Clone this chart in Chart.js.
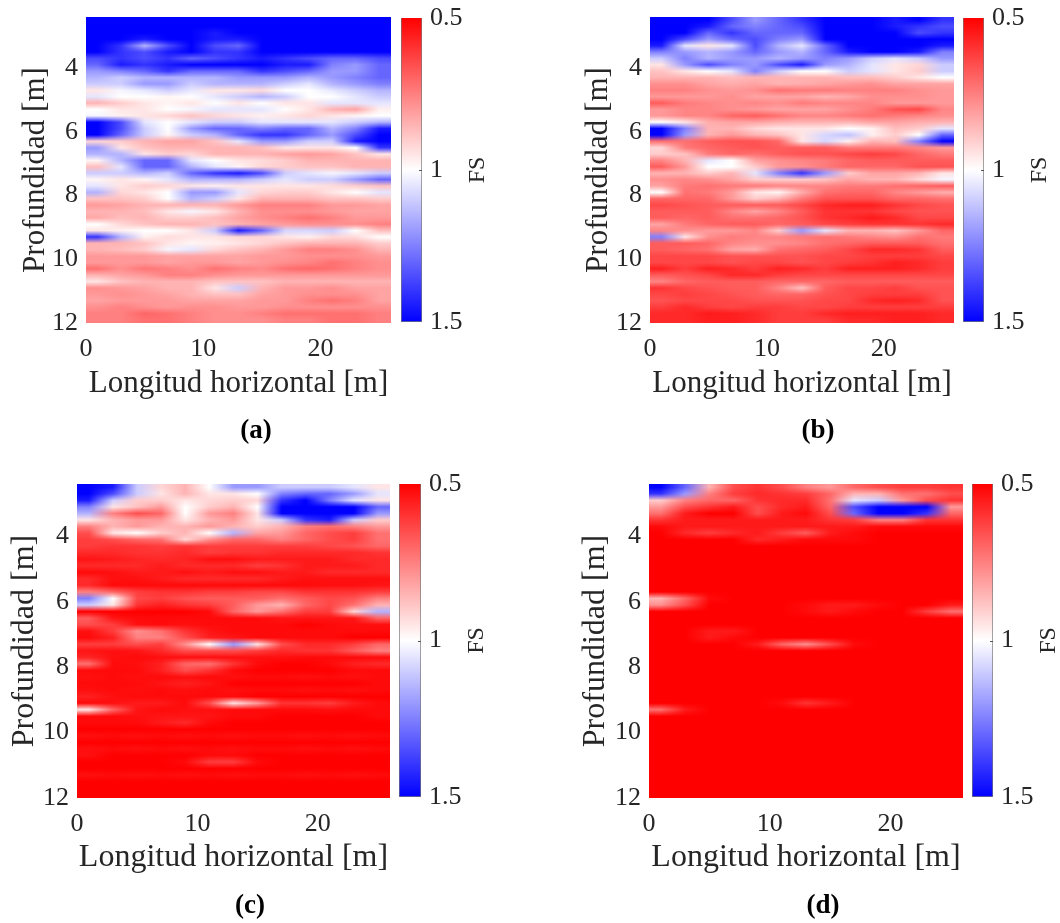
<!DOCTYPE html>
<html><head><meta charset="utf-8">
<style>html,body{margin:0;background:#fff;width:1060px;height:923px;overflow:hidden}canvas{position:absolute;display:block}</style>
<script src="https://cdn.jsdelivr.net/npm/chart.js@4"></script></head><body>
<script>
const xCells=[1,3,5,7,9,11,13,15,17,19,21,23,25];
const depthStart=2.4, depthStep=.2;
const xTicks=[0,10,20], yTicks=[4,6,8,10,12], fsTicks=[.5,1,1.5];
const xLabel='Longitud horizontal [m]', yLabel='Profundidad [m]', fsLabel='FS';
const captions=['(a)','(b)','(c)','(d)'];
const R=[.5,.5,.5,.5,.5,.5,.5,.5,.5,.5,.5,.5,.5];
const S=[.53,.52,.53,.52,.53,.52,.53,.52,.52,.53,.52,.53,.52];
const fsA=[
[1.5,1.5,1.5,1.5,1.5,1.5,1.5,1.5,1.5,1.5,1.5,1.5,1.5],
[1.5,1.5,1.5,1.5,1.5,1.5,1.5,1.5,1.5,1.5,1.5,1.5,1.5],
[1.5,1.5,1.5,1.5,1.5,1.45,1.5,1.5,1.5,1.5,1.5,1.5,1.5],
[1.5,1.5,1.45,1.5,1.5,1.45,1.45,1.5,1.5,1.5,1.5,1.5,1.5],
[1.5,1.4,1.15,1.35,1.5,1.35,1.3,1.5,1.5,1.5,1.5,1.5,1.5],
[1.5,1.4,1.35,1.45,1.5,1.4,1.4,1.5,1.5,1.5,1.5,1.5,1.5],
[1.35,1.4,1.35,1.4,1.3,1.35,1.4,1.45,1.4,1.35,1.3,1.3,1.35],
[1.3,1.45,1.4,1.45,1.5,1.5,1.5,1.5,1.45,1.45,1.25,1.2,1.3],
[1.2,1.25,1.3,1.4,1.3,1.3,1.3,1.4,1.35,1.3,1.2,1.2,1.3],
[1.15,1.1,1.15,1.15,1.15,1.15,1.2,1.2,1.2,1.15,1.2,1.25,1.3],
[1.1,1.1,1.2,1.2,1.1,1.15,1.15,1.15,1.1,1.05,1.15,1.2,1.25],
[.95,1.02,1.05,1.1,1.05,.95,.95,.93,1,1,1.05,1.1,1.15],
[1.05,1,1,.98,1,1.05,1.1,1.15,1.1,1,1,1.05,1.1],
[.85,.9,.95,.98,.95,1,.95,1,.95,.95,1.05,1.05,1.05],
[1,.95,.95,1,1.02,1.05,1.05,1.05,1,.95,.85,.82,.97],
[1.02,.97,.95,.92,.88,.92,.95,.97,.95,.92,.95,.98,1],
[1.5,1.35,1.05,1,1.05,1.1,1.1,1.05,1.05,1.05,1.05,1.1,1.15],
[1.5,1.35,1.1,1,1.2,1.3,1.3,1.25,1.3,1.3,1.15,1.25,1.45],
[1.5,1.3,1.1,.98,1.1,1.15,1.3,1.4,1.4,1.3,1.2,1.35,1.5],
[.92,.9,.85,.82,.82,.88,1.05,1.2,1.2,1.1,1.1,1.45,1.5],
[1.2,.95,.88,.85,.85,.85,.85,.87,.95,.95,.95,1,1.4],
[1.15,1.15,.95,.9,.92,.85,.85,.85,.82,.8,.82,.88,.95],
[.98,1.15,1.3,1.3,1.05,1,.95,.93,.9,.85,.85,.85,.85],
[.87,1.05,1.3,1.3,1.15,1.05,.98,.92,.9,.88,.88,.85,.85],
[1.1,1.1,1.15,1.1,1.3,1.4,1.45,1.35,1.1,1.05,1.02,1.05,1.1],
[.98,.95,.98,1.05,1.15,1.15,1.15,1.1,1.05,1.1,1.1,1.2,1.3],
[1.05,.95,.9,.92,.95,.97,.95,.95,.95,.95,.93,.9,.88],
[1.15,.92,.95,1,1.2,1.2,1.05,.92,.9,.9,.95,1,1.05],
[.88,.88,.9,1,1.15,1.1,.95,.85,.85,.85,.88,.88,.9],
[.8,.82,.85,.85,.85,.85,.8,.75,.75,.75,.8,.8,.82],
[.85,.85,.87,.95,1.02,.95,.85,.78,.78,.78,.8,.82,.82],
[.83,.87,.85,.9,.9,.87,.82,.78,.75,.72,.75,.8,.8],
[1,.92,.88,.85,.85,.88,.85,.82,.8,.78,.78,.78,.75],
[.95,.97,1,1,.95,1.1,1.45,1.3,1.08,1.08,1.1,1,.87],
[1.4,1.15,.97,.93,.95,.95,.92,.92,.95,.97,.92,.93,1],
[.85,.85,.88,.95,.98,.97,.95,.92,.88,.85,.85,.85,.9],
[.85,.87,.9,1.02,1.05,.92,.88,.85,.8,.75,.75,.78,.85],
[.8,.8,.8,.82,.82,.82,.82,.8,.8,.78,.78,.78,.8],
[.8,.8,.8,.82,.8,.8,.82,.8,.78,.76,.72,.75,.78],
[.72,.78,.73,.75,.78,.72,.75,.77,.72,.7,.72,.75,.78],
[.85,.82,.8,.75,.75,.78,.8,.8,.8,.8,.8,.8,.8],
[.95,.88,.85,.85,.85,.88,.88,.88,.85,.85,.85,.85,.85],
[.78,.8,.82,.85,.85,.95,1.1,.85,.8,.8,.78,.82,.82],
[.8,.78,.8,.82,.85,.88,.88,.82,.8,.78,.78,.78,.82],
[.82,.8,.8,.8,.82,.82,.82,.8,.8,.75,.72,.75,.82],
[.78,.75,.78,.8,.78,.78,.8,.8,.78,.78,.78,.78,.78],
[.75,.75,.7,.72,.75,.78,.78,.75,.72,.72,.72,.72,.75],
[.75,.75,.72,.72,.75,.78,.78,.78,.75,.75,.72,.72,.75]];
const fsB=[
[1.5,1.5,1.5,1.35,1.2,1.3,1.4,1.5,1.5,1.5,1.45,1.5,1.4],
[1.5,1.5,1.45,1.3,1.25,1.3,1.35,1.5,1.5,1.5,1.45,1.4,1.35],
[1.5,1.5,1.3,1.4,1.3,1.3,1.3,1.5,1.5,1.5,1.5,1.35,1.4],
[1.5,1.35,1.2,1.3,1.35,1.25,1.2,1.5,1.5,1.5,1.5,1.5,1.5],
[1.45,1.05,.95,1.05,1.35,1.15,1.05,1.3,1.5,1.5,1.5,1.5,1.45],
[1.25,1.2,1.15,1.2,1.3,1.2,1.15,1.3,1.45,1.5,1.5,1.45,1.25],
[1.1,1.25,1.15,1.2,1.2,1.15,1.2,1.25,1.2,1.1,1.05,1.1,1.2],
[.95,1.2,1.35,1.25,1.2,1.35,1.45,1.2,1.15,1.05,.95,.92,1.1],
[.88,.95,1,1.05,1.25,1.1,1,1,1.1,1.05,.95,.9,1.1],
[.85,.85,.85,.87,.85,.85,.85,.85,.87,.87,.9,.95,1],
[.78,.78,.82,.84,.82,.85,.84,.82,.8,.78,.82,.82,.82],
[.75,.75,.78,.8,.78,.72,.74,.74,.75,.75,.75,.78,.8],
[.8,.8,.8,.78,.82,.82,.82,.85,.83,.78,.78,.78,.8],
[.68,.74,.76,.78,.76,.78,.74,.76,.76,.76,.8,.8,.8],
[.8,.76,.76,.78,.8,.82,.82,.82,.78,.74,.66,.64,.76],
[.8,.76,.76,.7,.68,.72,.76,.76,.74,.72,.74,.76,.78],
[1,.95,.84,.82,.82,.84,.85,.85,.85,.82,.82,.84,.85],
[1.5,1.25,.85,.85,.92,.95,.95,.95,1,.97,.87,.9,1.05],
[1.5,1.2,.85,.8,.85,.88,.95,1.08,1.12,.97,.9,1,1.3],
[.72,.72,.68,.66,.66,.7,.95,1.08,.97,.85,.87,1.25,1.5],
[.92,.74,.7,.68,.66,.68,.68,.68,.74,.74,.74,.76,.8],
[.9,.88,.74,.7,.72,.68,.66,.66,.64,.62,.64,.7,.74],
[.76,.85,1.05,1,.82,.78,.76,.74,.7,.68,.68,.68,.68],
[.68,.8,1,1,.9,.8,.78,.74,.7,.7,.7,.66,.66],
[.85,.85,.9,.85,1.05,1.25,1.4,1.2,.9,.82,.82,.85,.95],
[.78,.76,.78,.82,.9,.9,.9,.88,.82,.85,.85,.92,1.02],
[.82,.74,.72,.74,.74,.76,.76,.76,.74,.74,.72,.7,.68],
[1,.72,.74,.8,.95,.98,.84,.72,.7,.7,.76,.8,.84],
[.7,.7,.7,.8,.9,.85,.74,.66,.66,.66,.7,.7,.72],
[.64,.66,.68,.68,.68,.68,.64,.58,.56,.56,.6,.64,.66],
[.68,.68,.68,.76,.82,.76,.68,.6,.6,.6,.64,.66,.66],
[.68,.7,.68,.72,.72,.7,.66,.6,.58,.55,.58,.64,.64],
[.82,.74,.7,.68,.68,.7,.68,.64,.62,.6,.6,.6,.58],
[.76,.78,.8,.8,.76,.9,1.2,1.05,.85,.85,.88,.8,.7],
[1.25,.95,.78,.74,.76,.76,.74,.72,.74,.76,.78,.72,.74],
[.68,.68,.7,.76,.78,.78,.76,.72,.7,.68,.68,.68,.72],
[.68,.7,.72,.82,.84,.72,.7,.68,.64,.58,.58,.6,.68],
[.64,.64,.64,.66,.66,.66,.66,.64,.64,.62,.62,.62,.64],
[.64,.64,.64,.66,.64,.64,.66,.64,.62,.6,.56,.58,.62],
[.56,.62,.56,.58,.62,.56,.58,.62,.56,.56,.56,.58,.62],
[.68,.66,.64,.58,.58,.62,.64,.64,.64,.64,.64,.64,.64],
[.76,.7,.68,.68,.68,.7,.7,.7,.68,.68,.68,.68,.68],
[.6,.64,.66,.68,.68,.76,.88,.68,.64,.64,.62,.66,.66],
[.64,.62,.64,.66,.68,.7,.7,.66,.64,.62,.62,.62,.66],
[.66,.64,.64,.64,.66,.66,.66,.64,.64,.58,.56,.58,.66],
[.62,.58,.62,.64,.62,.62,.64,.64,.62,.62,.62,.62,.62],
[.58,.58,.55,.56,.58,.62,.62,.58,.56,.56,.56,.56,.58],
[.58,.58,.56,.56,.58,.62,.62,.62,.58,.58,.56,.56,.58]];
const fsC=[
[1.5,1.45,1.1,.92,.85,1,1.2,1.2,1.1,1.1,1.1,1.05,.95],
[1.5,1.35,1.1,.95,.85,.95,.95,1,1.25,1.3,1.3,1.2,1.05],
[1.45,1.1,.9,.9,.95,.92,.9,.92,1.4,1.5,1.25,1.05,.95],
[1.25,.95,.88,.8,1,.9,.85,1,1.5,1.5,1.5,1.5,1.3],
[1.15,.75,.65,.7,1,.8,.75,.95,1.5,1.5,1.5,1.5,1.2],
[.95,.85,.8,.8,.95,.85,.8,.95,1.1,1.4,1.45,1.1,.9],
[.75,.85,.8,.85,.85,.8,.85,.9,.85,.75,.72,.75,.8],
[.65,.95,1,.9,.85,1,1.15,.82,.8,.7,.65,.62,.72],
[.62,.65,.7,.72,.92,.78,.7,.7,.75,.7,.65,.62,.72],
[.62,.6,.6,.62,.6,.62,.62,.62,.62,.62,.64,.66,.7],
[.58,.58,.6,.6,.58,.62,.6,.6,.58,.58,.58,.58,.6],
[.54,.55,.57,.58,.57,.53,.53,.55,.55,.55,.55,.58,.58],
[.58,.58,.58,.55,.58,.58,.58,.62,.6,.55,.55,.55,.58],
[.52,.53,.55,.55,.53,.55,.53,.53,.55,.55,.58,.58,.58],
[.58,.53,.53,.55,.58,.58,.58,.58,.55,.53,.53,.53,.53],
[.58,.52,.52,.52,.52,.52,.52,.52,.52,.52,.53,.53,.54],
[.75,.7,.62,.6,.6,.62,.62,.64,.64,.6,.6,.6,.62],
[1.25,1,.64,.62,.66,.68,.68,.68,.72,.68,.64,.66,.75],
[1.1,.95,.6,.56,.6,.62,.68,.8,.85,.7,.64,.72,.85],
[.5,.5,.5,.5,.5,.52,.7,.8,.72,.62,.62,.92,1.15],
[.68,.54,.52,.52,.52,.52,.52,.52,.54,.54,.54,.54,.7],
[.65,.62,.53,.52,.53,.52,.52,.52,.52,.5,.52,.53,.53],
[.53,.62,.78,.72,.6,.54,.52,.52,.52,.52,.52,.52,.52],
[.52,.56,.75,.75,.65,.56,.54,.52,.52,.52,.52,.5,.5],
[.62,.62,.65,.62,.78,1,1.2,.95,.65,.58,.58,.62,.7],
[.54,.53,.54,.58,.65,.65,.65,.62,.58,.6,.6,.68,.75],
[.57,.53,.52,.53,.53,.53,.53,.53,.53,.52,.52,.52,.52],
[.72,.52,.53,.56,.7,.72,.6,.52,.5,.5,.52,.56,.58],
[.52,.52,.52,.56,.65,.6,.52,.5,.5,.5,.5,.52,.52],
S,
[.52,.52,.52,.54,.56,.54,.5,.5,.5,.5,.5,.5,.52],
S,
[.56,.53,.52,.52,.52,.52,.52,.5,.5,.5,.5,.5,.5],
[.52,.53,.55,.55,.52,.65,.95,.8,.6,.6,.62,.55,.52],
[.95,.7,.54,.52,.53,.53,.52,.52,.52,.52,.53,.52,.52],
[.52,.52,.53,.54,.54,.54,.52,.52,.5,.5,.5,.5,.52],
[.52,.52,.52,.55,.58,.52,.5,.5,.5,.5,.5,.5,.5],
R,S,R,S,
[.53,.5,.5,.5,.5,.52,.52,.5,.5,.5,.5,.5,.5],
[.5,.5,.5,.5,.52,.62,.62,.52,.5,.5,.5,.5,.5],
R,S,R,R,R];
const fsD=[
[1.5,1.3,.85,.65,.6,.65,.75,.8,.7,.65,.62,.62,.6],
[1.4,1.2,.75,.62,.58,.6,.62,.7,.85,.85,.72,.72,.65],
[.9,.75,.7,.7,.6,.58,.58,.72,1.05,1.1,.8,.65,.6],
[.8,.65,.6,.55,.65,.58,.55,.7,1.35,1.5,1.5,1.5,.8],
[.72,.55,.5,.5,.65,.55,.52,.65,1.3,1.5,1.5,1.4,.7],
[.6,.55,.55,.55,.55,.55,.55,.6,.62,.75,.75,.6,.6],
[.52,.55,.55,.55,.55,.55,.55,.55,.55,.52,.52,.52,.52],
[.5,.58,.62,.58,.55,.62,.68,.55,.52,.5,.5,.5,.5],
[.5,.5,.5,.5,.58,.55,.52,.52,.52,.5,.5,.5,.5],
R,R,R,R,R,R,R,R,
[.85,.7,.52,.5,.5,.5,.5,.5,.5,.5,.5,.5,.5],
[.78,.65,.5,.5,.5,.5,.52,.55,.55,.52,.5,.5,.55],
[.5,.5,.5,.5,.5,.5,.52,.55,.52,.5,.5,.62,.72],
R,R,
[.5,.5,.55,.55,.5,.5,.5,.5,.5,.5,.5,.5,.5],
[.5,.5,.55,.52,.5,.5,.5,.5,.5,.5,.5,.5,.5],
[.5,.5,.5,.5,.55,.7,.78,.65,.52,.5,.5,.5,.5],
R,R,R,R,R,R,R,R,
[.5,.5,.5,.5,.5,.52,.6,.55,.5,.5,.5,.5,.5],
[.72,.55,.5,.5,.5,.5,.5,.5,.5,.5,.5,.5,.5],
R,R,R,R,R,R,R,R,R,R,R,R,R];
const grids=[fsA,fsB,fsC,fsD];

const FONT='"Liberation Serif","Times New Roman",serif', INK='#262626';
const geom=[
 {l:86,t:17,w:305,h:306,cb:[401,18,21,304],cap:256,W:66,xf:31,yf:31},
 {l:650,t:17,w:304,h:306,cb:[963,18,21,304],cap:818,W:67,xf:31,yf:31},
 {l:77,t:484,w:313,h:314,cb:[399,484,22,313],cap:250,W:68,xf:32,yf:32},
 {l:649,t:484,w:314,h:314,cb:[972,484,21,313],cap:823,W:69,xf:32,yf:32}];
function fsColor(v){
  const t=Math.min(1,Math.abs(v-1)/.5), c=Math.round(255*(1-t));
  return v<1?`rgb(255,${c},${c})`:`rgb(${c},${c},255)`;
}
function mk(l,t,w,h){const c=document.createElement('canvas');c.width=w;c.height=h;c.style.left=l+'px';c.style.top=t+'px';c.style.width=w+'px';c.style.height=h+'px';document.body.appendChild(c);return c;}
const shade={id:'shade',afterDatasetsDraw(ch,a,o){
  const {left,top,width,height}=ch.chartArea, off=document.createElement('canvas');
  off.width=xCells.length; off.height=o.rows;
  const x=off.getContext('2d'); x.imageSmoothingEnabled=false;
  x.drawImage(ch.canvas,left,top,width,height,0,0,off.width,off.height);
  const g=ch.ctx; g.save(); g.imageSmoothingEnabled=true; g.imageSmoothingQuality='medium';
  g.drawImage(off,left,top,width,height); g.restore();
}};
const caption={id:'caption',afterDraw(ch,a,o){
  const g=ch.ctx; g.save(); g.font='bold 27px '+FONT; g.fillStyle='#000'; g.textAlign='center'; g.textBaseline='middle';
  g.fillText(o.text,o.x,ch.chartArea.bottom+108); g.restore();
}};
const fsTitle={id:'fsTitle',afterDraw(ch){
  const g=ch.ctx,a=ch.chartArea,y=ch.scales.y; g.save();
  g.strokeStyle='#555'; g.lineWidth=1; g.beginPath(); const p=Math.round(y.getPixelForValue(1))+.5; g.moveTo(a.right-3,p); g.lineTo(a.right,p); g.stroke();
  g.translate(a.right+56,(a.top+a.bottom)/2); g.rotate(-Math.PI/2);
  g.font='24px '+FONT; g.fillStyle=INK; g.textAlign='center'; g.textBaseline='middle'; g.fillText(fsLabel,0,0); g.restore();
}};
geom.forEach((p,i)=>{
  const W=p.W,H=76,padT=17,padB=46,grid=grids[i];
  const cv=mk(p.l-W,p.t-padT,W+p.w+6,padT+p.h+H+padB);
  const datasets=grid.map((row,r)=>({
    data:row.map((v,c)=>({x:xCells[c],y:[depthStart+r*depthStep,depthStart+(r+1)*depthStep]})),
    backgroundColor:row.map(fsColor),borderWidth:0,grouped:false,barPercentage:1,categoryPercentage:1,inflateAmount:0}));
  new Chart(cv,{type:'bar',data:{datasets},plugins:[shade,caption],options:{
    responsive:false,animation:false,events:[],
    layout:{autoPadding:false,padding:{top:padT,bottom:padB,left:0,right:6}},
    plugins:{legend:{display:false},tooltip:{enabled:false},shade:{rows:grid.length},caption:{text:captions[i],x:p.cap-(p.l-W)}},
    scales:{
      x:{type:'linear',bounds:'data',min:0,max:26,offset:false,grid:{display:false},border:{display:false},
        afterBuildTicks(s){s.ticks=xTicks.map(v=>({value:v}));},afterFit(s){s.height=H;},
        ticks:{font:{family:FONT,size:26},color:INK,padding:3,maxRotation:0,autoSkip:false},
        title:{display:true,text:xLabel,font:{family:FONT,size:p.xf,lineHeight:1},color:INK,padding:0}},
      y:{type:'linear',bounds:'data',reverse:true,min:depthStart,max:12,grid:{display:false},border:{display:false},
        afterBuildTicks(s){s.ticks=yTicks.map(v=>({value:v}));},afterFit(s){s.width=W;s.paddingTop=0;},
        ticks:{font:{family:FONT,size:26},color:INK,padding:0,autoSkip:false},
        title:{display:true,text:yLabel,font:{family:FONT,size:p.yf,lineHeight:1},color:INK,padding:0}}
    }}});
  const [cl,ct,cw,ch]=p.cb, pad=16, RW=76;
  const cc=mk(cl,ct-pad,cw+RW,ch+2*pad);
  new Chart(cc,{type:'bar',data:{labels:['FS'],datasets:[{data:[[.5,1.5]],
    backgroundColor(ctx){const a=ctx.chart.chartArea;if(!a)return '#fff';const g=ctx.chart.ctx.createLinearGradient(0,a.top,0,a.bottom);g.addColorStop(0,'#f00');g.addColorStop(.5,'#fff');g.addColorStop(1,'#00f');return g;},
    borderWidth:1,borderColor:'#777',barPercentage:1,categoryPercentage:1}]},plugins:[fsTitle],options:{
    responsive:false,animation:false,events:[],
    layout:{autoPadding:false,padding:{top:pad,bottom:pad,left:0,right:0}},
    plugins:{legend:{display:false},tooltip:{enabled:false}},
    scales:{
      x:{display:false},
      y:{position:'right',bounds:'data',reverse:true,min:.5,max:1.5,grid:{display:false},border:{display:false},
        afterBuildTicks(s){s.ticks=fsTicks.map(v=>({value:v}));},afterFit(s){s.width=RW;s.paddingTop=0;s.paddingBottom=0;},
        ticks:{font:{family:FONT,size:26},color:INK,padding:0,autoSkip:false,callback:v=>String(v)}}
    }}});
});
</script></body></html>
